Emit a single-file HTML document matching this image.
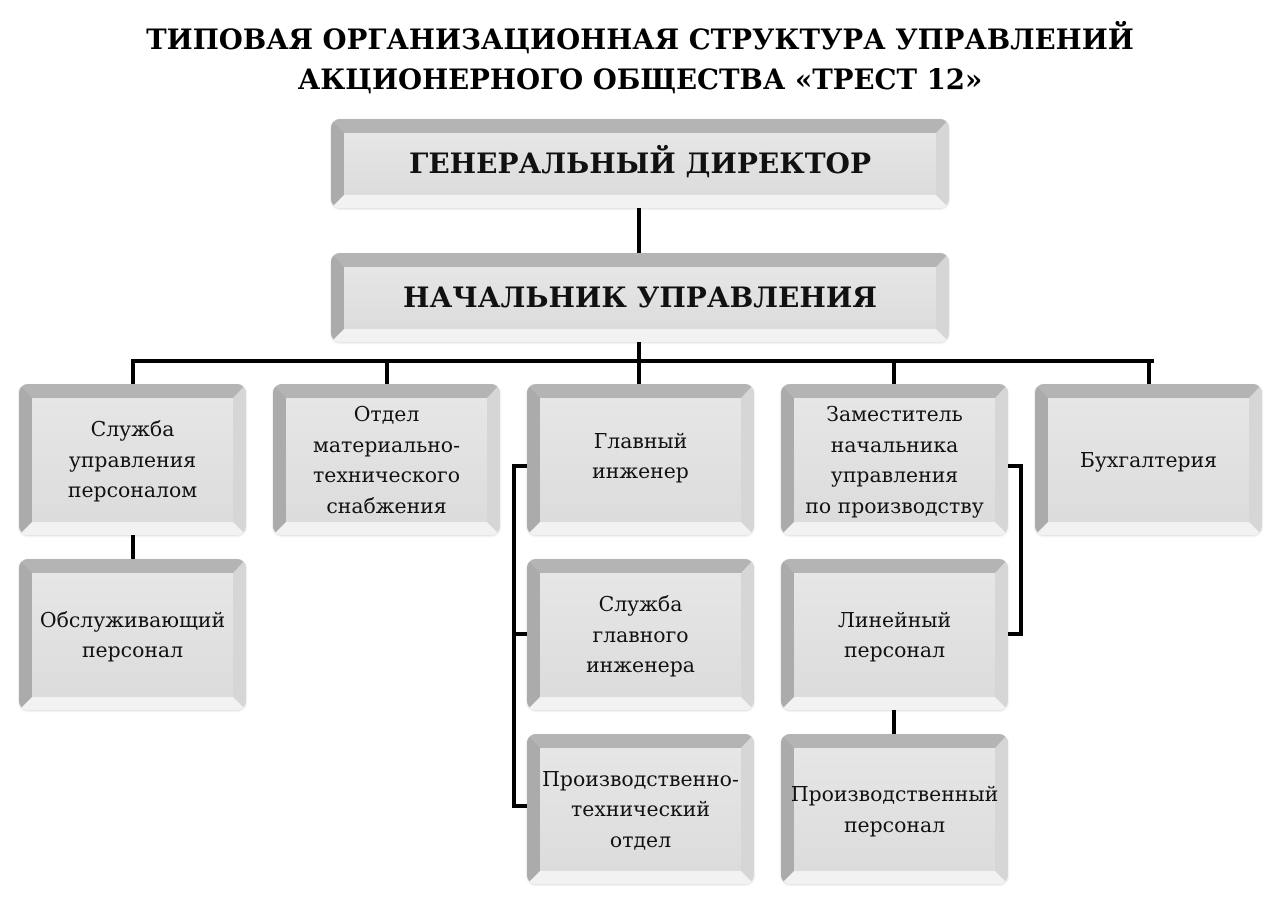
<!DOCTYPE html>
<html><head><meta charset="utf-8"><style>
body{margin:0;width:1280px;height:904px;background:#fff;position:relative;overflow:hidden}
*{font-family:"DejaVu Serif","Noto Serif CJK SC",serif}
.t{position:absolute;left:0;width:1280px;text-align:center;font-weight:bold;font-size:27.6px;line-height:40px}
.b{position:absolute;box-sizing:border-box;border-radius:9px;border-style:solid;border-width:14px 13px 13px 13px;border-color:#b4b4b4 #d6d6d6 #f2f2f2 #ababab;background:linear-gradient(#e6e6e6,#dcdcdc);display:flex;align-items:center;justify-content:center;text-align:center;font-size:20.4px;line-height:30.5px;color:#111;box-shadow:0 1px 2px rgba(0,0,0,.15)}
.big{font-size:28px;font-weight:bold;color:#111}
.l{position:absolute;background:#000}
</style></head><body>
<div class="t" style="top:20px">ТИПОВАЯ ОРГАНИЗАЦИОННАЯ СТРУКТУРА УПРАВЛЕНИЙ</div>
<div class="t" style="top:60px">АКЦИОНЕРНОГО ОБЩЕСТВА «ТРЕСТ 12»</div>

<div class="l" style="left:637px;top:205px;width:4px;height:50px"></div>
<div class="l" style="left:637px;top:340px;width:4px;height:46px"></div>
<div class="l" style="left:131px;top:359px;width:1023px;height:4px"></div>
<div class="l" style="left:131px;top:359px;width:4px;height:27px"></div>
<div class="l" style="left:385px;top:359px;width:4px;height:27px"></div>
<div class="l" style="left:892px;top:359px;width:4px;height:27px"></div>
<div class="l" style="left:1147px;top:359px;width:4px;height:27px"></div>
<div class="l" style="left:131px;top:533px;width:4px;height:28px"></div>
<div class="l" style="left:892px;top:708px;width:4px;height:28px"></div>
<div class="l" style="left:512px;top:464px;width:4px;height:344px"></div>
<div class="l" style="left:512px;top:464px;width:17px;height:4px"></div>
<div class="l" style="left:512px;top:632px;width:17px;height:4px"></div>
<div class="l" style="left:512px;top:804px;width:17px;height:4px"></div>
<div class="l" style="left:1019px;top:464px;width:4px;height:172px"></div>
<div class="l" style="left:1006px;top:464px;width:17px;height:4px"></div>
<div class="l" style="left:1006px;top:632px;width:17px;height:4px"></div>

<div class="b big" style="left:331px;top:119px;width:618px;height:89px">ГЕНЕРАЛЬНЫЙ ДИРЕКТОР</div>
<div class="b big" style="left:331px;top:253px;width:618px;height:89px">НАЧАЛЬНИК УПРАВЛЕНИЯ</div>

<div class="b" style="left:19px;top:384px;width:227px;height:151px">Служба<br>управления<br>персоналом</div>
<div class="b" style="left:273px;top:384px;width:227px;height:151px">Отдел<br>материально-<br>технического<br>снабжения</div>
<div class="b" style="left:527px;top:384px;width:227px;height:151px;padding-bottom:8px">Главный<br>инженер</div>
<div class="b" style="left:781px;top:384px;width:227px;height:151px">Заместитель<br>начальника<br>управления<br>по производству</div>
<div class="b" style="left:1035px;top:384px;width:227px;height:151px">Бухгалтерия</div>

<div class="b" style="left:19px;top:559px;width:227px;height:151px">Обслуживающий<br>персонал</div>
<div class="b" style="left:527px;top:559px;width:227px;height:151px">Служба<br>главного<br>инженера</div>
<div class="b" style="left:781px;top:559px;width:227px;height:151px">Линейный<br>персонал</div>

<div class="b" style="left:527px;top:734px;width:227px;height:150px">Производственно-<br>технический<br>отдел</div>
<div class="b" style="left:781px;top:734px;width:227px;height:150px">Производственный<br>персонал</div>
</body></html>
